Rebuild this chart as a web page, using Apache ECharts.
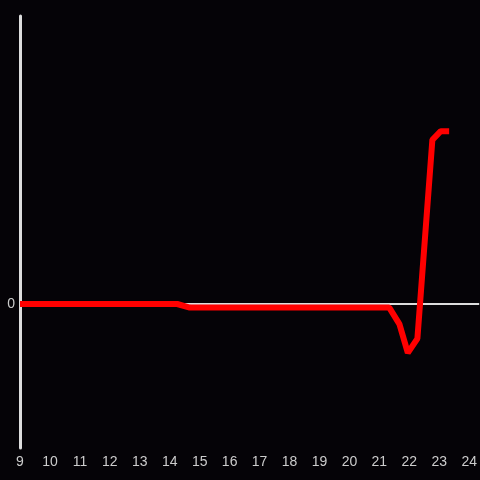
<!DOCTYPE html>
<html>
<head>
<meta charset="utf-8">
<script src="https://cdn.jsdelivr.net/npm/echarts@6/dist/echarts.min.js"></script>
<style>
  html, body { margin: 0; padding: 0; background: #050307; }
  #chart { width: 480px; height: 480px; }
</style>
</head>
<body>
<div id="chart"></div>
<script>
// x 是小时, y 是读数
const xValues = [9, 14.25, 14.67, 21.33, 21.67, 21.95, 22.27, 22.77, 23.05, 23.33];
const yValues = [0, 0, -0.025, -0.025, -0.14, -0.34, -0.24, 1.14, 1.2, 1.2];
const zeroLine = [0];

const chart = echarts.init(document.getElementById("chart"));

const option = {
  backgroundColor: "#050307",
  animation: false,
  grid: { left: 20, right: 0, top: 16, bottom: 32 },
  xAxis: {
    type: "value",
    min: 9,
    max: 24.333,
    interval: 1,
    axisLine: { show: false },
    axisTick: { show: false },
    splitLine: { show: false },
    axisLabel: {
      color: "#cccccc",
      fontSize: 14,
      margin: 7,
      showMaxLabel: false,
    },
  },
  yAxis: {
    type: "value",
    min: -1,
    max: 2,
    interval: 1,
    axisLine: { show: true, lineStyle: { color: "#dddddd", width: 3 } },
    axisTick: { show: false },
    splitLine: { show: false },
    axisLabel: {
      color: "#cccccc",
      fontSize: 14,
      margin: 5,
      formatter: (v) => (v === 0 ? "0" : ""),
    },
  },
  series: [
    {
      // 零线放在下面
      type: "line",
      data: [],
      z: 1,
      markLine: {
        silent: true,
        symbol: "none",
        label: { show: false },
        lineStyle: { color: "#dddddd", width: 2, type: "solid" },
        data: zeroLine.map((v) => ({ yAxis: v })),
      },
    },
    {
      type: "line",
      z: 5,
      data: xValues.map((x, i) => [x, yValues[i]]),
      showSymbol: false,
      lineStyle: { color: "#ff0000", width: 6 },
    },
  ],
};

chart.setOption(option);
</script>
</body>
</html>
